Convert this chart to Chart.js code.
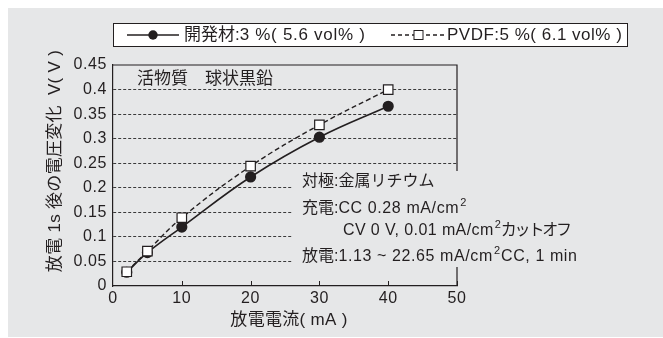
<!DOCTYPE html>
<html>
<head>
<meta charset="utf-8">
<script src="https://cdn.jsdelivr.net/npm/chart.js@4"></script>
<style>
  html, body { margin: 0; padding: 0; background: #ffffff; }
  #wrap { width: 663px; height: 338px; position: relative; }
</style>
</head>
<body>
<div id="wrap"><canvas id="chart" width="663" height="338"></canvas></div>
<script>
// Data
const currentMA = [2, 5, 10, 20, 30, 40];
const devVoltage = [0.028, 0.068, 0.12, 0.222, 0.303, 0.366];
const pvdfVoltage = [0.029, 0.071, 0.139, 0.244, 0.328, 0.400];
const xTickLabels = ['0', '10', '20', '30', '40', '50'];
const yTickLabels = ['0', '0.05', '0.1', '0.15', '0.2', '0.25', '0.3', '0.35', '0.4', '0.45'];

const INK = '#231f20';
const PANEL = '#e6e7e8';
const LATIN = '"Liberation Sans", Arial, "Noto Sans CJK JP", sans-serif';

function toPoints(ys) {
    return currentMA.map((x, i) => ({ x: x, y: ys[i] }));
}

// draws text piece by piece, returns end x
function drawRun(ctx, parts, x, y) {
    parts.forEach(p => {
        ctx.font = (p.size || 16) + 'px ' + LATIN;
        ctx.letterSpacing = (p.sp || 0) + 'px';
        ctx.fillText(p.t, x, y + (p.dy || 0));
        x += ctx.measureText(p.t).width + (p.gap || 0);
    });
    ctx.letterSpacing = '0px';
    return x;
}

// Backdrop, frame, annotation box and texts
const decorPlugin = {
    id: 'decor',
    beforeDraw(chart) {
        const ctx = chart.ctx;
        ctx.save();
        ctx.fillStyle = '#ffffff';
        ctx.fillRect(0, 0, chart.width, chart.height);
        ctx.fillStyle = PANEL;
        ctx.fillRect(8, 8, chart.width - 8, chart.height - 9);
        ctx.restore();
        // slightly tracked figures, as in the original print
        ctx.letterSpacing = '0.6px';
    },
    beforeDatasetsDraw(chart) {
        const ctx = chart.ctx;
        const a = chart.chartArea;
        const xs = chart.scales.x;
        ctx.save();
        ctx.strokeStyle = INK;
        ctx.lineWidth = 1.2;
        ctx.beginPath();
        ctx.moveTo(a.left, a.top);
        ctx.lineTo(a.right, a.top);
        ctx.lineTo(a.right, a.bottom);
        ctx.stroke();

        // small inward ticks on x axis
        ctx.lineWidth = 1;
        for (let v = 10; v <= 50; v += 10) {
            const px = Math.round(xs.getPixelForValue(v)) + 0.5;
            ctx.beginPath();
            ctx.moveTo(px, a.bottom);
            ctx.lineTo(px, a.bottom - 5);
            ctx.stroke();
        }

        // box behind conditions text
        ctx.fillStyle = PANEL;
        ctx.fillRect(293, 171, 330, 96);

        ctx.fillStyle = INK;
        ctx.textBaseline = 'middle';
        ctx.textAlign = 'left';
        drawRun(ctx, [{ t: '活物質　球状黒鉛', size: 17 }], 137, 79);

        drawRun(ctx, [{ t: '対極:金属リチウム' }], 302, 182);
        drawRun(ctx, [
            { t: '充電:' },
            { t: 'CC 0.28 mA/cm', sp: 0.6, gap: 1 },
            { t: '2', size: 11, dy: -6 }
        ], 302, 209);
        drawRun(ctx, [
            { t: 'CV 0 V, 0.01 mA/cm', sp: 0.4, gap: 1 },
            { t: '2', size: 11, dy: -6, gap: 0 },
            { t: 'カットオフ', sp: -2.2 }
        ], 343, 231);
        drawRun(ctx, [
            { t: '放電:' },
            { t: '1.13 ~ 22.65 mA/cm', sp: 0.6, gap: 1 },
            { t: '2', size: 11, dy: -6, gap: 1 },
            { t: 'CC, 1 min', sp: 0.6 }
        ], 302, 257);

        // axis titles
        ctx.textAlign = 'center';
        ctx.font = '17px ' + LATIN;
        ctx.letterSpacing = '0.3px';
        ctx.fillText('放電電流( mA )', 289, 320);
        ctx.translate(55, 161);
        ctx.rotate(-Math.PI / 2);
        ctx.fillText('放電 1s 後の電圧変化  V( V )', 0, 0);
        ctx.restore();
    },
    afterDraw(chart) {
        const ctx = chart.ctx;
        ctx.save();
        // legend box
        ctx.fillStyle = '#ffffff';
        ctx.fillRect(113, 23, 514, 23);
        ctx.strokeStyle = INK;
        ctx.lineWidth = 1;
        ctx.strokeRect(113.5, 23.5, 514, 23);

        const ly = 35;
        ctx.lineWidth = 1.5;
        ctx.beginPath();
        ctx.moveTo(127, ly);
        ctx.lineTo(179, ly);
        ctx.stroke();
        ctx.fillStyle = INK;
        ctx.beginPath();
        ctx.arc(153, ly, 4.7, 0, Math.PI * 2);
        ctx.fill();

        ctx.setLineDash([4, 3]);
        ctx.beginPath();
        ctx.moveTo(391, ly);
        ctx.lineTo(444, ly);
        ctx.stroke();
        ctx.setLineDash([]);
        ctx.fillStyle = '#ffffff';
        ctx.fillRect(414, ly - 4.5, 9, 9);
        ctx.lineWidth = 1;
        ctx.strokeRect(414, ly - 4.5, 9, 9);

        ctx.fillStyle = INK;
        ctx.textBaseline = 'middle';
        ctx.textAlign = 'left';
        drawRun(ctx, [{ t: '開発材:' , size: 17 }, { t: '3 %( 5.6 vol% )', size: 17, sp: 0.7 }], 184, ly);
        drawRun(ctx, [{ t: 'PVDF:5 %( 6.1 vol% )', size: 17, sp: 0.5 }], 447, ly);
        ctx.restore();
    }
};

new Chart(document.getElementById('chart'), {
    type: 'line',
    data: {
        datasets: [{
            label: '開発材:3 %( 5.6 vol% )',
            data: toPoints(devVoltage),
            borderColor: INK,
            borderWidth: 1.6,
            tension: 0.4,
            pointStyle: 'circle',
            pointRadius: 4.8,
            pointBackgroundColor: INK,
            pointBorderColor: INK,
            order: 2
        }, {
            label: 'PVDF:5 %( 6.1 vol% )',
            data: toPoints(pvdfVoltage),
            borderColor: INK,
            borderWidth: 1.4,
            borderDash: [5, 3],
            tension: 0.4,
            pointStyle: 'rect',
            pointRadius: 6.7,
            pointBackgroundColor: '#ffffff',
            pointBorderColor: INK,
            pointBorderWidth: 1.2,
            order: 1
        }]
    },
    options: {
        responsive: false,
        animation: false,
        events: [],
        layout: { padding: { left: 0, top: 65, right: 206, bottom: 0 } },
        plugins: {
            legend: { display: false },
            tooltip: { enabled: false }
        },
        scales: {
            x: {
                type: 'linear',
                min: 0,
                max: 50,
                afterFit: function(scale) { scale.height = 52; },
                grid: { display: false },
                border: { display: true, color: INK, width: 1.2 },
                ticks: {
                    stepSize: 10,
                    padding: -5,
                    color: INK,
                    font: { family: LATIN, size: 16 },
                    callback: function(value, index) { return xTickLabels[index]; }
                }
            },
            y: {
                min: 0,
                max: 0.45,
                afterFit: function(scale) { scale.width = 113; },
                grid: {
                    drawTicks: false,
                    lineWidth: 1,
                    color: function(ctx) {
                        const v = ctx.tick ? ctx.tick.value : 0;
                        return (v < 0.01 || v > 0.44) ? 'rgba(0,0,0,0)' : '#3a3a3a';
                    }
                },
                border: { display: true, color: INK, width: 1.2, dash: [3, 2] },
                ticks: {
                    stepSize: 0.05,
                    padding: 6,
                    color: INK,
                    font: { family: LATIN, size: 16 },
                    callback: function(value, index) { return yTickLabels[index]; }
                }
            }
        }
    },
    plugins: [decorPlugin]
});
</script>
</body>
</html>
